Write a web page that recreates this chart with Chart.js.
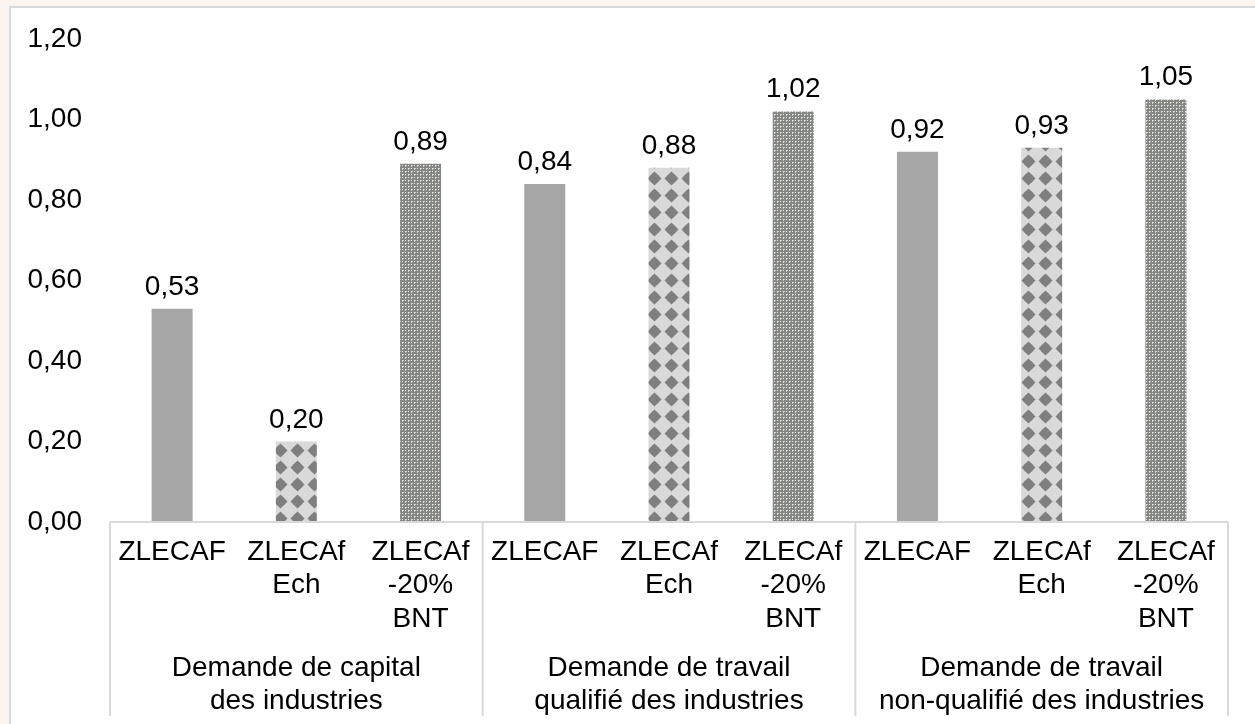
<!DOCTYPE html>
<html>
<head>
<meta charset="utf-8">
<script src="https://cdn.jsdelivr.net/npm/chart.js@4"></script>
<style>
  html, body { margin: 0; padding: 0; background: #fdf5ef; width: 1255px; height: 724px; overflow: hidden; }
  #frame { position: absolute; left: 9px; top: 6px; width: 1300px; height: 800px; background: #ffffff; border: 2px solid #d9d9d9; }
  #c { position: absolute; left: 0; top: 0; }
</style>
</head>
<body>
<div id="frame"></div>
<canvas id="c" width="1255" height="724"></canvas>
<script>
// ---- data ----
const categories = [
  ['ZLECAF'], ['ZLECAf', 'Ech'], ['ZLECAf', '-20%', 'BNT'],
  ['ZLECAF'], ['ZLECAf', 'Ech'], ['ZLECAf', '-20%', 'BNT'],
  ['ZLECAF'], ['ZLECAf', 'Ech'], ['ZLECAf', '-20%', 'BNT']
];
const groups = [
  ['Demande de capital', 'des industries'],
  ['Demande de travail', 'qualifié des industries'],
  ['Demande de travail', 'non-qualifié des industries']
];
const values = [0.53, 0.20, 0.89, 0.84, 0.88, 1.02, 0.92, 0.93, 1.05];
const yTicks = [0, 0.2, 0.4, 0.6, 0.8, 1.0, 1.2];
const groupSize = 3;

// ---- patterns ----
function checkerPattern(ctx) {
  const t = document.createElement('canvas');
  t.width = 17; t.height = 17;
  const g = t.getContext('2d');
  g.fillStyle = '#d9d9d9'; g.fillRect(0, 0, 17, 17);
  g.fillStyle = '#7f7f7f';
  g.beginPath();
  g.moveTo(8.5, 1.5); g.lineTo(15.5, 8.5); g.lineTo(8.5, 15.5); g.lineTo(1.5, 8.5); g.closePath();
  g.fill();
  g.beginPath(); g.arc(8.5, 8.5, 5, 0, Math.PI * 2); g.fill();
  return ctx.createPattern(t, 'repeat');
}
function finePattern(ctx) {
  const t = document.createElement('canvas');
  t.width = 6; t.height = 6;
  const g = t.getContext('2d');
  g.fillStyle = '#858585'; g.fillRect(0, 0, 6, 6);
  g.fillStyle = '#e2eedb';
  g.fillRect(0, 0, 1, 1); g.fillRect(3, 3, 1, 1);
  g.fillRect(0, 3, 1, 1); g.fillRect(3, 0, 1, 1);
  g.fillStyle = '#c3cfbc';
  g.fillRect(1, 0, 1, 1); g.fillRect(0, 1, 1, 1); g.fillRect(4, 3, 1, 1); g.fillRect(3, 4, 1, 1);
  return ctx.createPattern(t, 'repeat');
}

const canvas = document.getElementById('c');
const ctx = canvas.getContext('2d');
const solid = '#a6a6a6';
const chk = checkerPattern(ctx);
const fine = finePattern(ctx);
const barColors = values.map((v, i) => [solid, chk, fine][i % 3]);

const fmt = v => v.toFixed(2).replace('.', ',');
const FONT = "'Liberation Sans', Arial, sans-serif";

const valueLabels = {
  id: 'valueLabels',
  afterDatasetsDraw(chart) {
    const c = chart.ctx;
    const meta = chart.getDatasetMeta(0);
    c.save();
    c.fillStyle = '#000';
    c.font = '28px ' + FONT;
    c.textAlign = 'center';
    c.textBaseline = 'alphabetic';
    meta.data.forEach((bar, i) => {
      c.fillText(fmt(values[i]), bar.x, bar.y - 14);
    });
    c.restore();
  }
};

const separators = {
  id: 'separators',
  afterDraw(chart) {
    const c = chart.ctx;
    const xs = chart.scales.x;
    const area = chart.chartArea;
    const half = (xs.getPixelForValue(1) - xs.getPixelForValue(0)) / 2;
    c.save();
    c.strokeStyle = '#d9d9d9';
    c.lineWidth = 2;
    c.beginPath();
    c.moveTo(area.left, area.bottom);
    c.lineTo(area.right, area.bottom);
    for (let g = 0; g <= groups.length; g++) {
      const idx = Math.min(g * groupSize, categories.length - 1);
      const x = g * groupSize < categories.length ? xs.getPixelForValue(idx) - half : xs.getPixelForValue(idx) + half;
      c.moveTo(x, area.bottom);
      c.lineTo(x, 716);
    }
    c.stroke();
    c.restore();
  }
};

new Chart(ctx, {
  type: 'bar',
  data: {
    labels: categories,
    datasets: [{
      data: values,
      backgroundColor: barColors,
      borderWidth: 0,
      categoryPercentage: 1,
      barPercentage: 0.33
    }]
  },
  options: {
    responsive: false,
    animation: false,
    layout: { padding: { top: 39, right: 27, bottom: 0, left: 0 } },
    plugins: { legend: { display: false }, tooltip: { enabled: false } },
    scales: {
      y: {
        min: 0, max: 1.2,
        afterBuildTicks(s) { s.ticks = yTicks.map(v => ({ value: v })); },
        afterFit(s) { s.width = 110; s.paddingTop = 0; s.paddingBottom = 0; },
        grid: { display: false, drawTicks: false },
        border: { display: false },
        ticks: {
          padding: 28,
          color: '#000',
          font: { family: FONT, size: 28 },
          callback: v => fmt(v)
        }
      },
      x: {
        weight: 0,
        offset: true,
        grid: { display: false, drawTicks: false },
        border: { display: false },
        afterFit(s) { s.height = 120; },
        ticks: {
          padding: 13,
          maxRotation: 0, autoSkip: false,
          color: '#000',
          font: { family: FONT, size: 28, lineHeight: 1.2 }
        }
      },
      x2: {
        type: 'category',
        position: 'bottom',
        weight: 1,
        labels: groups,
        offset: true,
        grid: { display: false, drawTicks: false },
        border: { display: false },
        afterFit(s) { s.height = 82; },
        ticks: {
          padding: 9,
          maxRotation: 0, autoSkip: false,
          color: '#000',
          font: { family: FONT, size: 28, lineHeight: 1.2 }
        }
      }
    }
  },
  plugins: [valueLabels, separators]
});
</script>
</body>
</html>
